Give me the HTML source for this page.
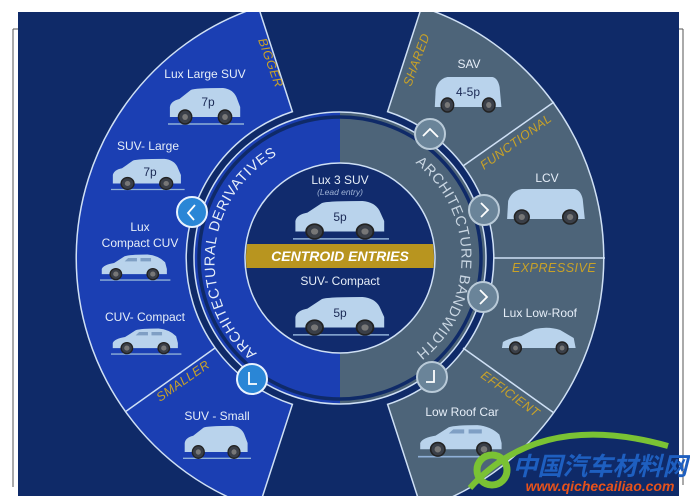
<!DOCTYPE html>
<html><head><meta charset="utf-8"><style>
html,body{margin:0;padding:0;background:#fff;}
body{width:690px;height:500px;overflow:hidden;position:relative;font-family:"Liberation Sans",sans-serif;}
</style></head><body>
<svg width="690" height="500" viewBox="0 0 690 500" xmlns="http://www.w3.org/2000/svg" style="position:absolute;left:0;top:0">
<defs>
<clipPath id="img"><rect x="18" y="12" width="661" height="484"/></clipPath>
<g id="suv">
  <path d="M2,30 L2,20 Q3,14 12,12 L24,3 Q28,1 58,1 Q68,2 72,10 L76,20 L76,30 Z" fill="#b9d3ec"/>
  <line x1="0" y1="37" x2="80" y2="37" stroke="#8fb0d8" stroke-width="1.5"/>
  <circle cx="18" cy="30" r="7" fill="#3a3f48" stroke="#222" stroke-width="1.5"/><circle cx="18" cy="30" r="3" fill="#777"/>
  <circle cx="60" cy="30" r="7" fill="#3a3f48" stroke="#222" stroke-width="1.5"/><circle cx="60" cy="30" r="3" fill="#777"/>
</g>
<g id="hatch">
  <path d="M2,26 L2,20 Q4,15 16,13 L28,5 Q34,3 54,3 Q66,4 74,12 L76,20 L76,26 Z" fill="#b9d3ec"/>
  <path d="M32,7 L42,7 L42,11 L28,11 Z M46,7 L58,7 L58,11 L46,11 Z" fill="#7f9fc4"/>
  <line x1="0" y1="33" x2="80" y2="33" stroke="#8fb0d8" stroke-width="1.5"/>
  <circle cx="18" cy="26" r="6.5" fill="#3a3f48" stroke="#222" stroke-width="1.5"/><circle cx="18" cy="26" r="3" fill="#777"/>
  <circle cx="60" cy="26" r="6.5" fill="#3a3f48" stroke="#222" stroke-width="1.5"/><circle cx="60" cy="26" r="3" fill="#777"/>
</g>
<g id="van">
  <path d="M2,32 L3,14 Q6,4 16,2 L66,2 Q72,3 74,12 L76,32 Z" fill="#b9d3ec"/>
  <circle cx="16" cy="30" r="7" fill="#3a3f48" stroke="#222" stroke-width="1.5"/><circle cx="16" cy="30" r="3" fill="#777"/>
  <circle cx="62" cy="30" r="7" fill="#3a3f48" stroke="#222" stroke-width="1.5"/><circle cx="62" cy="30" r="3" fill="#777"/>
</g>
<g id="sedan">
  <path d="M2,24 L3,18 Q10,14 22,12 L36,5 Q50,2 62,6 L76,14 L78,24 Z" fill="#b9d3ec"/>
  <circle cx="16" cy="24" r="6" fill="#3a3f48" stroke="#222" stroke-width="1.5"/><circle cx="16" cy="24" r="2.5" fill="#777"/>
  <circle cx="64" cy="24" r="6" fill="#3a3f48" stroke="#222" stroke-width="1.5"/><circle cx="64" cy="24" r="2.5" fill="#777"/>
</g>
<path id="lp" d="M 261.4,356.8 A 121 121 0 0 1 282.4,152.4"/>
<path id="rp" d="M 401,153.2 A 121 121 0 0 1 401,362.8"/>
</defs>
<!-- frame lines -->
<line x1="13" y1="29" x2="13" y2="487" stroke="#555" stroke-width="1"/>
<line x1="13" y1="29" x2="18" y2="29" stroke="#555" stroke-width="1"/>
<line x1="683" y1="29" x2="683" y2="485" stroke="#555" stroke-width="1"/>
<line x1="679" y1="29" x2="683" y2="29" stroke="#555" stroke-width="1"/>
<g clip-path="url(#img)">
<rect x="18" y="12" width="661" height="484" fill="#0f2a68"/>
<!-- outer left blue band: angles 108..252 -->
<path d="M 258.4,12 L 293.4,111.6 A 154 154 0 0 0 293.4,404.4 L 258.4,504 L 0,504 L 0,0 Z" fill="none"/>
<path d="M 339.6,256 m0,0" fill="none"/>
<path d="M 258.4,7 A 264 264 0 0 0 258.4,509 L 292.4,404.4 A 154 154 0 0 1 292.4,111.6 Z" fill="#1b3fb3" stroke="#cfe0f5" stroke-width="1.5"/>
<!-- outer right slate band -->
<path d="M 421.6,7 A 264 264 0 0 1 421.6,509 L 387.6,404.4 A 154 154 0 0 0 387.6,111.6 Z" fill="#4d6479" stroke="#cfe0f5" stroke-width="1.5"/>
<!-- separators -->
<line x1="215" y1="348" x2="125" y2="412" stroke="#cfe0f5" stroke-width="1.5"/>
<line x1="463" y1="166" x2="554" y2="102" stroke="#cfe0f5" stroke-width="1.5"/>
<line x1="494" y1="258" x2="605" y2="258" stroke="#cfe0f5" stroke-width="1.5"/>
<line x1="463" y1="348" x2="554" y2="413" stroke="#cfe0f5" stroke-width="1.5"/>
<!-- middle ring -->
<path d="M340,112 A146 146 0 0 0 340,404 Z" fill="#1b3fb3"/>
<path d="M340,112 A146 146 0 0 1 340,404 Z" fill="#4d6479"/>
<circle cx="340" cy="258" r="146" fill="none" stroke="#cfe0f5" stroke-width="1.5"/>
<circle cx="340" cy="258" r="141" fill="none" stroke="#0f2a68" stroke-width="3.5"/>
<!-- center disc -->
<circle cx="340" cy="258" r="95" fill="#112b6d" stroke="#cfe0f5" stroke-width="1.5"/>
<clipPath id="cd"><circle cx="340" cy="258" r="94"/></clipPath>
<rect x="240" y="244" width="200" height="24" fill="#b8951f" clip-path="url(#cd)"/>
<text x="340" y="261" text-anchor="middle" font-size="14" font-weight="bold" font-style="italic" fill="#fff">CENTROID ENTRIES</text>
<!-- ring texts -->
<text font-size="14.5" fill="#e6eef8" letter-spacing="0.6"><textPath href="#lp" startOffset="50%" text-anchor="middle">ARCHITECTURAL DERIVATIVES</textPath></text>
<text font-size="14.5" fill="#c9d6e2" letter-spacing="0.6"><textPath href="#rp" startOffset="50%" text-anchor="middle">ARCHITECTURE BANDWIDTH</textPath></text>
<!-- buttons -->
<g stroke="#e8f2ff" stroke-width="2">
<circle cx="192" cy="212" r="15" fill="#2a86d6"/>
<circle cx="252" cy="379" r="15" fill="#2a86d6"/>
<circle cx="430" cy="134" r="15" fill="#6a8499" stroke="#b9cad8"/>
<circle cx="484" cy="210" r="15" fill="#6a8499" stroke="#b9cad8"/>
<circle cx="483" cy="297" r="15" fill="#6a8499" stroke="#b9cad8"/>
<circle cx="432" cy="377" r="15" fill="#6a8499" stroke="#b9cad8"/>
</g>
<g fill="none" stroke="#fff" stroke-width="1.8">
<polyline points="195,205 188,213 194,220"/>
<polyline points="249,372 249,384 257,384"/>
<polyline points="423,136 430,129 438,137"/>
<polyline points="481,203 488,210 481,217"/>
<polyline points="480,290 487,297 480,304"/>
<polyline points="434,370 434,382 426,382"/>
</g>
<!-- section labels -->
<g font-size="12.5" font-style="italic" fill="#c9a227" letter-spacing="0.5">
<text transform="translate(258,40) rotate(70)">BIGGER</text>
<text transform="translate(160,402) rotate(-35)">SMALLER</text>
<text transform="translate(411,87) rotate(-70)">SHARED</text>
<text transform="translate(484,170) rotate(-36)">FUNCTIONAL</text>
<text x="512" y="272">EXPRESSIVE</text>
<text transform="translate(480,377) rotate(36)">EFFICIENT</text>
</g>
<!-- car labels -->
<g font-size="12" fill="#e6eef8" text-anchor="middle">
<text x="205" y="78">Lux Large SUV</text>
<text x="148" y="150">SUV- Large</text>
<text x="140" y="231">Lux</text>
<text x="140" y="247">Compact CUV</text>
<text x="145" y="321">CUV- Compact</text>
<text x="217" y="420">SUV - Small</text>
<text x="340" y="184">Lux 3 SUV</text>
<text x="340" y="285">SUV- Compact</text>
<text x="469" y="68">SAV</text>
<text x="547" y="182">LCV</text>
<text x="540" y="317">Lux Low-Roof</text>
<text x="462" y="416">Low Roof Car</text>
<text x="340" y="195" font-size="8.5" font-style="italic" fill="#9fb3d6">(Lead entry)</text>
</g>
<!-- cars -->
<use href="#suv" transform="translate(168,87) scale(0.95,1)"/>
<use href="#suv" transform="translate(111,158) scale(0.92,0.85)"/>
<use href="#hatch" transform="translate(100,252) scale(0.88,0.85)"/>
<use href="#hatch" transform="translate(111,326) scale(0.88,0.85)"/>
<use href="#suv" transform="translate(183,425) scale(0.85,0.9)"/>
<use href="#suv" transform="translate(293,200) scale(1.2,1.05)"/>
<use href="#suv" transform="translate(293,296) scale(1.2,1.05)"/>
<use href="#van" transform="translate(433,75) scale(0.9,1)"/>
<use href="#van" transform="translate(505,187) scale(1.05,1)"/>
<use href="#sedan" transform="translate(500,324) scale(0.97,1)"/>
<use href="#hatch" transform="translate(418,422) scale(1.1,1.05)"/>
<g font-size="12" fill="#1b2a55" text-anchor="middle">
<text x="208" y="106">7p</text>
<text x="150" y="176">7p</text>
<text x="340" y="221">5p</text>
<text x="340" y="317">5p</text>
<text x="468" y="96">4-5p</text>
</g>
</g>
<!-- watermark -->
<path d="M470,488 Q540,410 668,446" fill="none" stroke="#7ac234" stroke-width="6"/>
<circle cx="492" cy="470" r="15" fill="none" stroke="#7ac234" stroke-width="7"/>
<text x="600" y="475" text-anchor="middle" font-family="'Liberation Sans','Noto Sans CJK SC',sans-serif" font-size="25" font-weight="bold" font-style="italic" fill="#1e5fc0">中国汽车材料网</text>
<text x="600" y="491" text-anchor="middle" font-size="14" font-weight="bold" font-style="italic" fill="#e8521a">www.qichecailiao.com</text>
</svg>
</body></html>
